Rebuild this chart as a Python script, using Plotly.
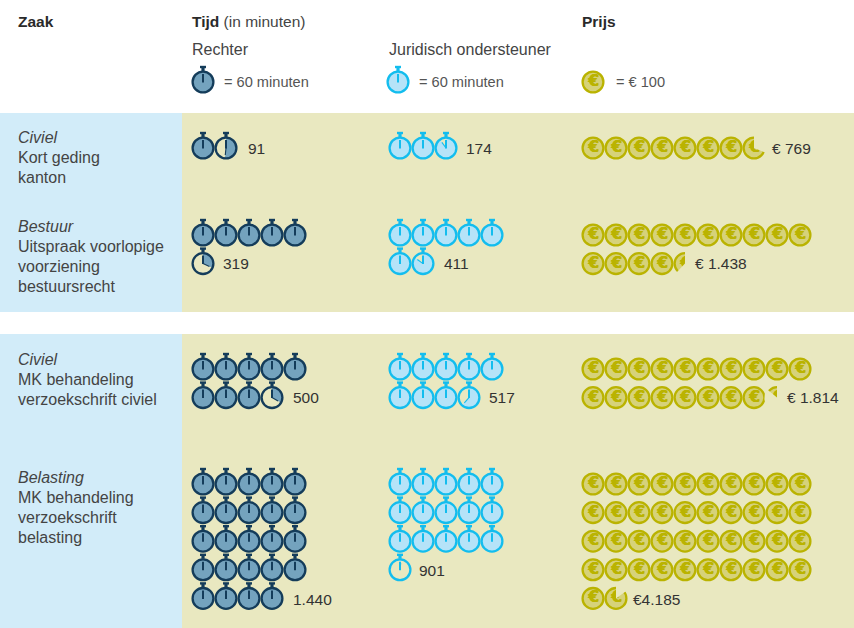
import numpy as np
import plotly.graph_objects as go

# ---------- data ----------
case_types = ["Civiel", "Bestuur", "Civiel", "Belasting"]
case_names = [
    ["Kort geding", "kanton"],
    ["Uitspraak voorlopige", "voorziening", "bestuursrecht"],
    ["MK behandeling", "verzoekschrift civiel"],
    ["MK behandeling", "verzoekschrift", "belasting"],
]
judge_minutes = [91, 319, 500, 1440]
staff_minutes = [174, 411, 517, 901]
price_euro = [769, 1438, 1814, 4185]
judge_labels = ["91", "319", "500", "1.440"]
staff_labels = ["174", "411", "517", "901"]
price_labels = ["€ 769", "€ 1.438", "€ 1.814", "€4.185"]

MIN_PER_CLOCK = 60
EUR_PER_COIN = 100
CLOCKS_PER_ROW = 5
COINS_PER_ROW = 10

# ---------- layout ----------
W, H = 854, 628
OLIVE = "#E9E8C0"
BLUE = "#D2ECF9"
INK = "#2A2A2A"
GREY = "#555555"
JUDGE = dict(stroke="#143C5A", fill="#74A3BE")
STAFF = dict(stroke="#13BDEE", fill="#B5E3F8")
COIN = dict(stroke="#BAB300", fill="#D6D27A")
FONT = "Liberation Sans"

R = 10.4
STROKE = 2.3
STEP_X = 23
STEP_Y = 28.6
JUDGE_X, STAFF_X, COIN_X = 203, 400, 593
ROW_Y = [148, 235, 369, 484]
LEGEND_Y = 82
LABEL_Y = {"judge": [148, 263, 397, 599], "staff": [148, 263, 397, 570], "price": [148, 263, 397, 599]}
LABEL_X = {"judge": [248, 223, 293, 293], "staff": [466, 444, 489, 419], "price": [772, 695, 787, 633]}
TEXT_Y = [137, 226, 359, 477]
LINE_H = 20


def wedge(cx, cy, r, start, end):
    a = 2 * np.pi * np.linspace(start, end, 40)
    xs = [cx] + list(cx + r * np.sin(a)) + [cx, None]
    ys = [cy] + list(cy - r * np.cos(a)) + [cy, None]
    return xs, ys


def grid(x0, y0, n, per_row):
    return [(x0 + (i % per_row) * STEP_X, y0 + (i // per_row) * STEP_Y) for i in range(n)]


class Clocks:
    def __init__(self, style):
        self.style = style
        self.full, self.partial = [], []

    def add(self, x0, y0, minutes):
        whole = minutes // MIN_PER_CLOCK
        rest = (minutes % MIN_PER_CLOCK) / MIN_PER_CLOCK
        pos = grid(x0, y0, whole + (1 if rest else 0), CLOCKS_PER_ROW)
        self.full += pos[:whole]
        if rest:
            self.partial.append((pos[-1], rest))

    def traces(self):
        s = self.style
        out = []
        wx, wy, hx, hy, hx2, hy2, cx_, cy_, sx, sy = [], [], [], [], [], [], [], [], [], []
        for (x, y), f in self.partial:
            a, b = wedge(x, y, R, 0, f)
            wx += a
            wy += b
            hx2 += [x, x + 7 * np.sin(2 * np.pi * f), None]
            hy2 += [y, y - 7 * np.cos(2 * np.pi * f), None]
        if wx:
            out.append(go.Scatter(x=wx, y=wy, mode="lines", fill="toself", fillcolor=s["fill"],
                                  line=dict(width=0), hoverinfo="skip"))
        every = self.full + [p for p, _ in self.partial]
        out.append(go.Scatter(x=[p[0] for p in self.full], y=[p[1] for p in self.full], mode="markers",
                              marker=dict(size=2 * R, color=s["fill"], line=dict(color=s["stroke"], width=STROKE)),
                              hoverinfo="skip"))
        if self.partial:
            out.append(go.Scatter(x=[p[0] for p, _ in self.partial], y=[p[1] for p, _ in self.partial],
                                  mode="markers",
                                  marker=dict(size=2 * R, color="rgba(0,0,0,0)",
                                              line=dict(color=s["stroke"], width=STROKE)),
                                  hoverinfo="skip"))
        for x, y in every:
            hx += [x, x, None]
            hy += [y + 0.5, y - 8, None]
            cx_ += [x - 3, x + 3, None]
            cy_ += [y - 15, y - 15, None]
            sx += [x, x, None]
            sy += [y - 15, y - 11, None]
        out.append(go.Scatter(x=hx, y=hy, mode="lines", line=dict(color=s["stroke"], width=2), hoverinfo="skip"))
        if hx2:
            out.append(go.Scatter(x=hx2, y=hy2, mode="lines", line=dict(color=s["stroke"], width=1.1), hoverinfo="skip"))
        out.append(go.Scatter(x=cx_, y=cy_, mode="lines", line=dict(color=s["stroke"], width=2.4), hoverinfo="skip"))
        out.append(go.Scatter(x=sx, y=sy, mode="lines", line=dict(color=s["stroke"], width=3.2), hoverinfo="skip"))
        return out


def coin_traces(coins, cuts):
    xs = [p[0] for p in coins]
    ys = [p[1] for p in coins]
    thick = "0.5px 0 0 {c}, -0.5px 0 0 {c}".format(c=COIN["stroke"])
    out = [
        go.Scatter(x=xs, y=ys, mode="markers", marker=dict(size=2 * R, color=COIN["fill"],
                   line=dict(color=COIN["stroke"], width=STROKE)), hoverinfo="skip"),
        go.Scatter(x=[x + 0.7 for x in xs], y=[y + 0.3 for y in ys], mode="text", text=["€"] * len(xs),
                   textposition="middle center",
                   textfont=dict(family="DejaVu Sans", size=15, color=COIN["stroke"], weight="bold", shadow=thick),
                   hoverinfo="skip"),
    ]
    wx, wy = [], []
    for (x, y), f in cuts:
        a, b = wedge(x, y, R + STROKE, 0, 1 - f)
        wx += a
        wy += b
    out.append(go.Scatter(x=wx, y=wy, mode="lines", fill="toself", fillcolor=OLIVE,
                          line=dict(width=0), hoverinfo="skip"))
    return out


fig = go.Figure()

judge = Clocks(JUDGE)
staff = Clocks(STAFF)
judge.add(JUDGE_X, LEGEND_Y, MIN_PER_CLOCK)
staff.add(STAFF_X - 2, LEGEND_Y, MIN_PER_CLOCK)
coins = [(COIN_X, LEGEND_Y)]
cuts = []
for i, y in enumerate(ROW_Y):
    judge.add(JUDGE_X, y, judge_minutes[i])
    staff.add(STAFF_X, y, staff_minutes[i])
    whole = price_euro[i] // EUR_PER_COIN
    rest = (price_euro[i] % EUR_PER_COIN) / EUR_PER_COIN
    pos = grid(COIN_X, y, whole + 1, COINS_PER_ROW)
    coins += pos
    cuts.append((pos[-1], rest))

fig.add_traces(judge.traces())
fig.add_traces(staff.traces())
fig.add_traces(coin_traces(coins, cuts))


def note(x, y, text, size=16, color=INK):
    fig.add_annotation(x=x, y=y, text=text, showarrow=False, xanchor="left", yanchor="middle",
                       xref="x", yref="y", align="left", borderpad=0, borderwidth=0,
                       font=dict(family=FONT, size=size, color=color))


note(18, 21, "<b>Zaak</b>", size=15.5)
note(192, 21, "<b>Tijd</b> <span style='color:#444444'>(in minuten)</span>", size=15.5)
note(582, 21, "<b>Prijs</b>", size=15.5)
note(192, 49, "Rechter", color="#444444")
note(389, 49, "Juridisch ondersteuner", color="#444444")
note(224, LEGEND_Y, "= 60 minuten", size=14.6, color=GREY)
note(419, LEGEND_Y, "= 60 minuten", size=14.6, color=GREY)
note(616, LEGEND_Y, "= € 100", size=14.6, color=GREY)

for i, y in enumerate(TEXT_Y):
    note(18, y, f"<i>{case_types[i]}</i>", color="#444444")
    for j, line in enumerate(case_names[i]):
        note(18, y + (j + 1) * LINE_H, line, color="#444444")
    note(LABEL_X["judge"][i], LABEL_Y["judge"][i], judge_labels[i], size=15.5, color="#333333")
    note(LABEL_X["staff"][i], LABEL_Y["staff"][i], staff_labels[i], size=15.5, color="#333333")
    note(LABEL_X["price"][i], LABEL_Y["price"][i], price_labels[i], size=15.5, color="#333333")

for y0, y1 in [(113, 312), (334, 628)]:
    fig.add_shape(type="rect", x0=0, x1=182, y0=y0, y1=y1, fillcolor=BLUE, line_width=0, layer="below")
    fig.add_shape(type="rect", x0=182, x1=W, y0=y0, y1=y1, fillcolor=OLIVE, line_width=0, layer="below")

fig.update_layout(
    width=W, height=H, margin=dict(l=0, r=0, t=0, b=0),
    paper_bgcolor="white", plot_bgcolor="white", showlegend=False,
    xaxis=dict(range=[0, W], visible=False, fixedrange=True),
    yaxis=dict(range=[H, 0], visible=False, fixedrange=True),
)
fig.write_html("out.html", config={"displayModeBar": False},
               post_script="document.body.style.margin='0';")
